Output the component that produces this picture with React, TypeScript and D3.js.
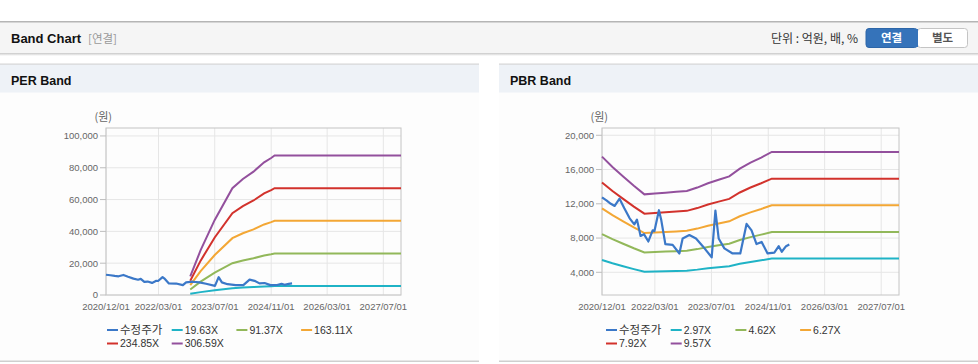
import React from "react";
import * as d3 from "d3";

// ---------- DATA ----------
const priceDates = [
  "2020-12-01","2021-01-08","2021-02-15","2021-03-20","2021-05-01","2021-06-10","2021-07-27",
  "2021-09-05","2021-09-28","2021-10-29","2021-11-27","2022-01-04","2022-02-10","2022-02-25",
  "2022-04-05","2022-04-25","2022-05-30","2022-08-01","2022-09-28","2022-10-26","2022-12-23",
  "2023-02-18","2023-04-17","2023-07-03","2023-08-04","2023-09-01","2023-10-20","2023-12-30",
  "2024-03-05","2024-04-28","2024-06-10","2024-07-23","2024-09-05","2024-10-26","2024-12-23",
  "2025-01-30","2025-02-25","2025-04-03","2025-05-01",
];
const priceValues = [
  12750, 12400, 12000, 11750, 12600, 11500, 10300,
  9600, 10150, 8250, 8450, 7600, 8900, 8800,
  11250, 10100, 7300, 7200, 6200, 7950, 8350,
  7950, 7050, 5750, 11200, 7950, 6800, 6200,
  6200, 9650, 8900, 7300, 7550, 6200, 6300,
  7050, 6400, 7050, 7250,
];

// PER band: EPS
const epsDates = [
  "2022-12-01","2023-03-01","2023-07-01","2023-12-01","2024-03-01","2024-06-01",
  "2024-09-01","2024-11-01","2024-12-01","2027-12-01",
];
const epsValues = [38, 92, 154, 219, 238, 253, 272, 281, 286, 286];
const perMultiples = [19.63, 91.37, 163.11, 234.85, 306.59];
const perLabels = ["19.63X", "91.37X", "163.11X", "234.85X", "306.59X"];

// PBR band: BPS
const bpsDates = [
  "2020-12-01","2021-03-01","2021-06-01","2021-09-01","2021-12-01","2022-03-01",
  "2022-06-01","2022-09-01","2022-12-01","2023-03-01","2023-06-01","2023-09-01",
  "2023-12-01","2024-03-01","2024-06-01","2024-09-01","2024-12-01","2027-12-01",
];
const bpsValues = [
  1829, 1703, 1588, 1473, 1369, 1379,
  1390, 1400, 1411, 1452, 1505, 1547,
  1588, 1682, 1755, 1818, 1886, 1886,
];
const pbrMultiples = [2.97, 4.62, 6.27, 7.92, 9.57];
const pbrLabels = ["2.97X", "4.62X", "6.27X", "7.92X", "9.57X"];

const priceLabel = "수정주가";
const xTickDates = ["2020-12-01","2022-03-01","2023-07-01","2024-11-01","2026-03-01","2027-07-01"];
const perYTicks = [0, 20000, 40000, 60000, 80000, 100000];
const pbrYTicks = [4000, 8000, 12000, 16000, 20000];

// ---------- STYLE ----------
const PRICE_COLOR = "#3b78c8";
const BAND_COLORS = ["#1fb3c6", "#92b85a", "#f3a735", "#d2322c", "#93509d"];
const FONT = "'Liberation Sans', Arial, 'Noto Sans CJK KR', sans-serif";
const KFONT = "'Noto Sans CJK KR', 'Liberation Sans', sans-serif";

const parse = d3.timeParse("%Y-%m-%d");
const fmtDate = d3.timeFormat("%Y/%m/%d");
const fmtNum = d3.format(",");

type Pt = { d: Date; v: number };

function Chart(props: {
  x0: number; x1: number; yDomain: [number, number]; yTicks: number[];
  baseDates: string[]; baseValues: number[]; multiples: number[]; labels: string[];
  legendX: number;
}) {
  const { x0, x1, yDomain, yTicks, baseDates, baseValues, multiples, labels, legendX } = props;
  const top = 128, bottom = 295;
  const x = d3.scaleTime().domain([parse("2020-12-01")!, parse("2027-12-01")!]).range([x0, x1]);
  const y = d3.scaleLinear().domain(yDomain).range([bottom, top]);
  const line = d3.line<Pt>().x(p => x(p.d)).y(p => y(p.v));
  const price: Pt[] = priceDates.map((s, i) => ({ d: parse(s)!, v: priceValues[i] }));
  const bands = multiples.map(m => baseDates.map((s, i) => ({ d: parse(s)!, v: baseValues[i] * m })));
  const legendItems = [{ label: priceLabel, color: PRICE_COLOR, k: true }].concat(
    labels.map((l, i) => ({ label: l, color: BAND_COLORS[i], k: false }))
  );
  const itemW = 64.7;
  return (
    <g>
      {/* grid */}
      {yTicks.map(t => (
        <line key={"gy" + t} x1={x0} x2={x1} y1={y(t)} y2={y(t)} stroke="#e6e6e6" />
      ))}
      {xTickDates.map(s => (
        <line key={"gx" + s} x1={x(parse(s)!)} x2={x(parse(s)!)} y1={top} y2={bottom} stroke="#e6e6e6" />
      ))}
      <rect x={x0} y={top} width={x1 - x0} height={bottom - top} fill="none" stroke="#c4c4c4" />
      {/* y axis */}
      {yTicks.map(t => (
        <g key={"ty" + t}>
          <line x1={x0 - 6} x2={x0} y1={y(t)} y2={y(t)} stroke="#bdbdbd" />
          <text x={x0 - 8} y={y(t)} dy="0.35em" textAnchor="end" fontSize={9.5} fill="#666" fontFamily={FONT}>
            {fmtNum(t)}
          </text>
        </g>
      ))}
      <text x={x0 + 6} y={117} dy="0.35em" textAnchor="end" fontSize={11} fill="#666" fontFamily={KFONT}>(원)</text>
      {/* x axis labels */}
      {xTickDates.map(s => (
        <text key={"tx" + s} x={x(parse(s)!)} y={307} dy="0.35em" textAnchor="middle" fontSize={9.5} fill="#666" fontFamily={FONT}>
          {fmtDate(parse(s)!)}
        </text>
      ))}
      {/* bands */}
      {bands.map((b, i) => (
        <path key={"b" + i} d={line(b) || ""} fill="none" stroke={BAND_COLORS[i]} strokeWidth={2} />
      ))}
      <path d={line(price) || ""} fill="none" stroke={PRICE_COLOR} strokeWidth={2.2} strokeLinejoin="round" />
      {/* legend */}
      {legendItems.map((it, i) => {
        const col = i % 4, row = Math.floor(i / 4);
        const lx = legendX + col * itemW;
        const ly = 330 + row * 13.5;
        return (
          <g key={"lg" + i}>
            <line x1={lx} x2={lx + 11} y1={ly} y2={ly} stroke={it.color} strokeWidth={2} />
            <text x={lx + 13} y={ly} dy="0.35em" fontSize={it.k ? 11.5 : 10.5} fill="#333" fontFamily={it.k ? KFONT : FONT}>
              {it.label}
            </text>
          </g>
        );
      })}
    </g>
  );
}

export default function App() {
  return (
    <svg width={978} height={364} style={{ position: "absolute", left: 0, top: 0, background: "#fff" }}>
      <defs>
        <linearGradient id="shadow" x1="0" y1="0" x2="0" y2="1">
          <stop offset="0" stopColor="#c8c8c8" />
          <stop offset="1" stopColor="#ffffff" />
        </linearGradient>
      </defs>
      {/* top header */}
      <rect x={0} y={22} width={978} height={31} fill="#f5f5f5" />
      <rect x={0} y={21} width={978} height={1.5} fill="#b5b5b5" />
      <rect x={0} y={53} width={978} height={3} fill="url(#shadow)" />
      <text x={11} y={43} fontSize={13} fontWeight="bold" fill="#111" fontFamily={FONT}>Band Chart</text>
      <text x={88} y={43} fontSize={11.5} fill="#999" fontFamily={KFONT}>[연결]</text>
      <text x={858} y={42.5} textAnchor="end" fontSize={12} fill="#333" fontFamily={KFONT}>단위 : 억원, 배, %</text>
      <rect x={866} y={28.5} width={51.5} height={19} rx={3} fill="#3573ba" stroke="#2d66a8" />
      <rect x={917.5} y={28.5} width={50} height={19} rx={3} fill="#fff" stroke="#c4c4c4" />
      <rect x={914} y={29} width={4} height={18} fill="#3573ba" />
      <text x={891.5} y={38} dy="0.35em" textAnchor="middle" fontSize={11.5} fontWeight="bold" fill="#fff" fontFamily={KFONT}>연결</text>
      <text x={942.5} y={38} dy="0.35em" textAnchor="middle" fontSize={11.5} fontWeight="bold" fill="#555" fontFamily={KFONT}>별도</text>

      {/* panels */}
      {[{ px: 0, pw: 479, title: "PER Band" }, { px: 499, pw: 479, title: "PBR Band" }].map(p => (
        <g key={p.title}>
          <rect x={p.px} y={64} width={p.pw} height={297} fill="#fdfdfd" />
          <rect x={p.px} y={64} width={p.pw} height={28.5} fill="#eef2f7" />
          <rect x={p.px} y={63.5} width={p.pw} height={1.2} fill="#d6d6d6" />
          <rect x={p.px} y={360.5} width={p.pw} height={1.5} fill="#cfcfcf" />
          <text x={p.px + 11} y={84.5} fontSize={12.5} fontWeight="bold" fill="#111" fontFamily={FONT}>{p.title}</text>
        </g>
      ))}

      <Chart x0={106} x1={401} yDomain={[0, 105000]} yTicks={perYTicks}
        baseDates={epsDates} baseValues={epsValues} multiples={perMultiples} labels={perLabels} legendX={107} />
      <Chart x0={602} x1={899} yDomain={[1350, 20850]} yTicks={pbrYTicks}
        baseDates={bpsDates} baseValues={bpsValues} multiples={pbrMultiples} labels={pbrLabels} legendX={606} />
    </svg>
  );
}
